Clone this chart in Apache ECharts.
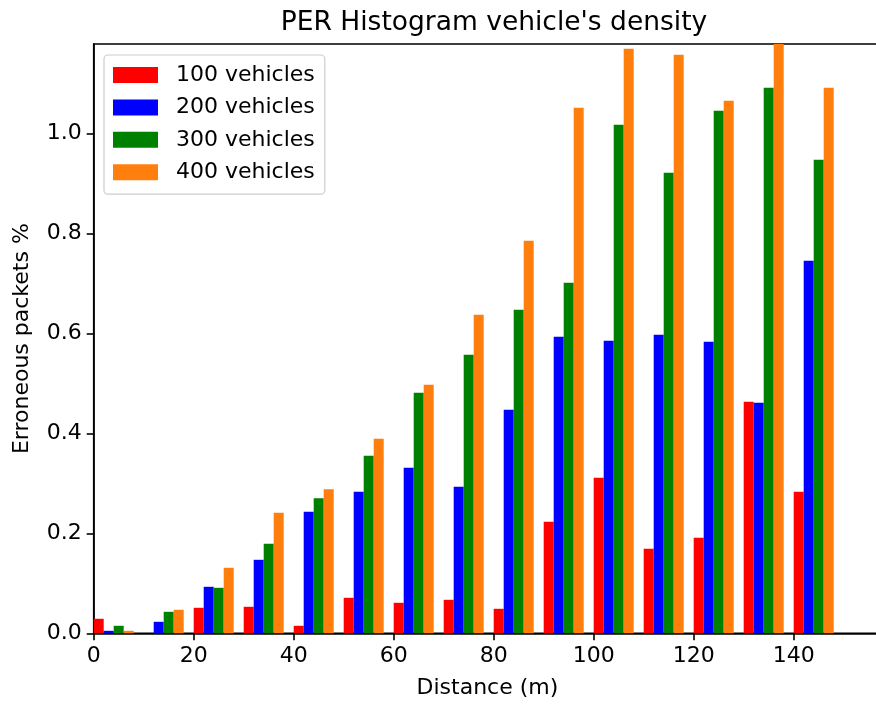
<!DOCTYPE html>
<html>
<head>
<meta charset="utf-8">
<script src="https://cdn.jsdelivr.net/npm/echarts@6/dist/echarts.min.js"></script>
<style>html,body{margin:0;padding:0;background:#fff;}#c{width:876px;height:704px;}</style>
</head>
<body>
<div id="c"></div>
<script>
const binStarts = [0,10,20,30,40,50,60,70,80,90,100,110,120,130,140];
const seriesNames = ['100 vehicles','200 vehicles','300 vehicles','400 vehicles'];
const v100 = [0.029,0,0.051,0.053,0.015,0.071,0.061,0.067,0.049,0.223,0.311,0.169,0.191,0.463,0.283];
const v200 = [0.005,0.023,0.093,0.147,0.243,0.283,0.331,0.293,0.447,0.593,0.585,0.597,0.583,0.461,0.745];
const v300 = [0.015,0.043,0.091,0.179,0.270,0.355,0.481,0.557,0.647,0.701,1.017,0.921,1.045,1.091,0.947];
const v400 = [0.005,0.047,0.131,0.241,0.288,0.389,0.497,0.637,0.785,1.051,1.169,1.157,1.065,1.19,1.091];
const xTicks = [0,20,40,60,80,100,120,140];
const yTicks = [0.0,0.2,0.4,0.6,0.8,1.0];
const barOffsets = [1,3,5,7];
const colors = ['#ff0000','#0000ff','#008000','#ff7f0e'];
const allValues = [v100,v200,v300,v400];

const FONT = 'DejaVu Sans';
const FS = 22;
const chart = echarts.init(document.getElementById('c'), null, {renderer:'canvas'});
const series = allValues.map((vals,i)=>({
  name: seriesNames[i],
  type: 'bar',
  data: vals.map((v,j)=>[binStarts[j]+barOffsets[i], v]),
  barWidth: 10,
  barGap: '-100%',
  itemStyle: {color: colors[i]},
  clip: true,
  silent: true,
  animation: false
}));
chart.setOption({
  animation: false,
  backgroundColor: '#ffffff',
  title: {
    text: "PER Histogram vehicle's density",
    left: 489, textAlign: 'center', top: 5,
    textStyle: {fontFamily: FONT, fontSize: 26.5, fontWeight: 'normal', color: '#000'}
  },
  legend: {
    orient: 'vertical', left: 104, top: 55,
    padding: [9, 10, 11, 9],
    itemWidth: 45, itemHeight: 16, itemGap: 10.4,
    icon: 'rect',
    borderColor: '#cccccc', borderWidth: 1.2, borderRadius: 4,
    backgroundColor: 'rgba(255,255,255,0.8)',
    textStyle: {fontFamily: FONT, fontSize: FS, color: '#000', lineHeight: 22, padding: [0,0,0,13]},
    data: seriesNames
  },
  grid: {left: 93.7, width: 787.5, top: 44, height: 589.3, show: true, borderColor: '#000', borderWidth: 1.6,
    containLabel: false, outerBoundsMode: 'none'},
  xAxis: {
    type: 'value', min: 0, max: 157.5, interval: 20,
    name: 'Distance (m)', nameLocation: 'middle', nameGap: 44,
    nameTextStyle: {fontFamily: FONT, fontSize: FS, color: '#000'},
    axisLine: {show: true, onZero: false, lineStyle: {color: '#000', width: 1.6}},
    axisTick: {show: true, length: 7, lineStyle: {color: '#000', width: 1.6}},
    splitLine: {show: false},
    axisLabel: {fontFamily: FONT, fontSize: FS, color: '#000', margin: 12,
      showMaxLabel: false,
      formatter: v => xTicks.includes(v) ? String(v) : ''}
  },
  yAxis: {
    type: 'value', min: 0, max: 1.1786, interval: 0.2,
    name: 'Erroneous packets %', nameLocation: 'middle', nameGap: 60,
    nameTextStyle: {fontFamily: FONT, fontSize: FS, color: '#000'},
    axisLine: {show: true, lineStyle: {color: '#000', width: 1.6}},
    axisTick: {show: true, length: 7, lineStyle: {color: '#000', width: 1.6}},
    splitLine: {show: false},
    axisLabel: {fontFamily: FONT, fontSize: FS, color: '#000', margin: 12,
      showMaxLabel: false,
      formatter: v => yTicks.some(t=>Math.abs(t-v)<1e-9) ? v.toFixed(1) : ''}
  },
  series: series
});
</script>
</body>
</html>
